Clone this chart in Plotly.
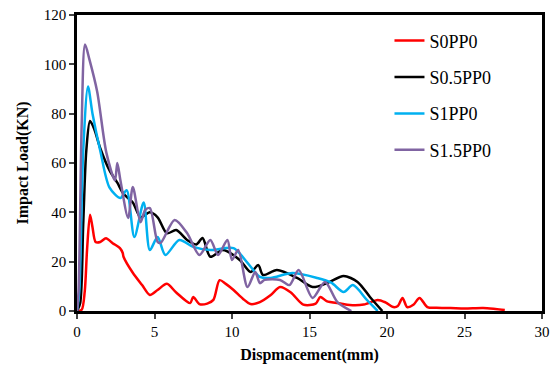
import plotly.graph_objects as go

# S0PP0 (red)
x_s0 = [0, 0.3, 0.5, 0.65, 0.84, 1.0, 1.2, 1.5, 1.87, 2.3, 2.77, 2.95, 3.0, 3.6, 4.2, 4.7, 5.2, 5.8, 6.4, 7.3, 7.5, 7.9, 8.4, 8.8, 9.2, 9.6, 10.1, 10.7, 11.2, 11.8, 12.5, 13.1, 13.8, 14.6, 15.4, 15.7, 16.1, 17.0, 17.6, 18.5, 19.4, 19.9, 20.4, 20.7, 21.0, 21.3, 21.7, 22.1, 22.6, 23.2, 24.1, 25.0, 26.2, 27.0, 27.6]
y_s0 = [0, 0.5, 8, 25, 39, 34, 28, 28, 29.5, 27.5, 25.5, 23.5, 22, 15.5, 10.5, 6.5, 8.5, 11, 7.5, 3.2, 5.7, 2.8, 3.0, 4.5, 12.5, 11, 8.5, 5, 2.8, 3.6, 6.5, 9.7, 7.5, 2.6, 3.0, 5.7, 4.0, 3.0, 2.4, 2.6, 4.5, 3.5, 1.6, 2.0, 5.3, 1.6, 2.5, 5.3, 1.6, 1.3, 1.2, 1.0, 1.2, 0.8, 0.4]

# S0.5PP0 (black)
x_s05 = [0, 0.2, 0.4, 0.6, 0.84, 1.1, 1.5, 2.1, 2.6, 3.0, 3.6, 4.1, 4.7, 5.2, 5.8, 6.4, 7.1, 7.7, 8.1, 8.6, 9.4, 10.5, 11.2, 11.7, 12.0, 12.9, 14.2, 15.2, 16.2, 17.2, 18.1, 18.9, 19.7]
y_s05 = [0, 3, 35, 65, 77, 74, 66, 57, 52, 47.5, 44, 38, 40, 38, 31.5, 32.8, 28.8, 27, 29.6, 22, 24.7, 20.7, 15.8, 18.6, 14.6, 16.6, 13.4, 9.7, 11.5, 14.2, 11.8, 5.7, 0]

# S1PP0 (cyan)
x_s1 = [0, 0.15, 0.4, 0.71, 1.0, 1.5, 2.1, 2.8, 3.2, 3.7, 4.3, 4.7, 5.2, 5.7, 6.6, 7.5, 8.6, 10.1, 11.0, 11.8, 12.5, 13.9, 15.5, 16.4, 17.2, 17.8, 18.7, 19.4]
y_s1 = [0, 8, 65, 91, 80, 65, 50, 45.8, 49, 30, 44, 24.7, 30, 22.7, 28.8, 26, 24.7, 25.5, 19.5, 13.8, 13.4, 15.4, 13.4, 11.5, 7.7, 10.5, 4.5, 0]

# S1.5PP0 (purple)
x_s15 = [0, 0.1, 0.3, 0.52, 0.8, 1.3, 1.9, 2.45, 2.6, 2.8, 3.3, 3.6, 4.1, 4.4, 4.7, 5.2, 5.4, 6.3, 7.1, 7.9, 8.6, 9.1, 9.7, 10.0, 10.4, 11.0, 11.5, 11.8, 12.1, 13.1, 13.7, 14.3, 15.2, 16.0, 16.8, 17.7]
y_s15 = [0, 8, 75, 108, 102, 89, 64, 53, 60, 53, 37.7, 50.3, 36, 41, 41.7, 28, 27.6, 36.9, 31.6, 22.7, 28.8, 22.7, 28.8, 20.7, 24.7, 9.7, 15.8, 11.3, 12.6, 12.6, 10.5, 16.6, 5.3, 11.8, 3.6, 0]

x_ticks = [0, 5, 10, 15, 20, 25, 30]
y_ticks = [0, 20, 40, 60, 80, 100, 120]

series = [
    ("S0PP0", x_s0, y_s0, "#FF0000"),
    ("S0.5PP0", x_s05, y_s05, "#000000"),
    ("S1PP0", x_s1, y_s1, "#00B0F0"),
    ("S1.5PP0", x_s15, y_s15, "#8064A2"),
]

fig = go.Figure()
for name, xs, ys, col in series:
    fig.add_trace(go.Scatter(x=xs, y=ys, name=name, mode="lines",
                             line=dict(color=col, width=2.5, shape="spline", smoothing=0.8),
                             legendgroup=name))

font_family = "Liberation Serif, Times New Roman, serif"
fig.update_layout(
    width=553, height=369,
    margin=dict(l=77, r=11, t=15, b=58),
    paper_bgcolor="white", plot_bgcolor="white",
    font=dict(family=font_family, size=14, color="black"),
    showlegend=True,
    legend=dict(x=0.672, y=0.975, xanchor="left", yanchor="top",
                font=dict(family=font_family, size=18, color="black"),
                bgcolor="rgba(0,0,0,0)", tracegroupgap=10, itemwidth=30),
    xaxis=dict(range=[0, 30], tickvals=x_ticks, ticks="outside", ticklen=5, tickwidth=2,
               showline=True, linewidth=2.5, linecolor="black", mirror=True,
               showgrid=False, zeroline=False, automargin=False,
               title=dict(text="<b>Dispmacement(mm)</b>", font=dict(family=font_family, size=16), standoff=11),
               tickfont=dict(family=font_family, size=15)),
    yaxis=dict(range=[0, 120], tickvals=y_ticks, ticks="outside", ticklen=5, tickwidth=2,
               showline=True, linewidth=2.5, linecolor="black", mirror=True,
               showgrid=False, zeroline=False, automargin=False,
               title=dict(text="<b>Impact Load(KN)</b>", font=dict(family=font_family, size=16), standoff=12),
               tickfont=dict(family=font_family, size=15)),
)

fig.write_html("out.html")
